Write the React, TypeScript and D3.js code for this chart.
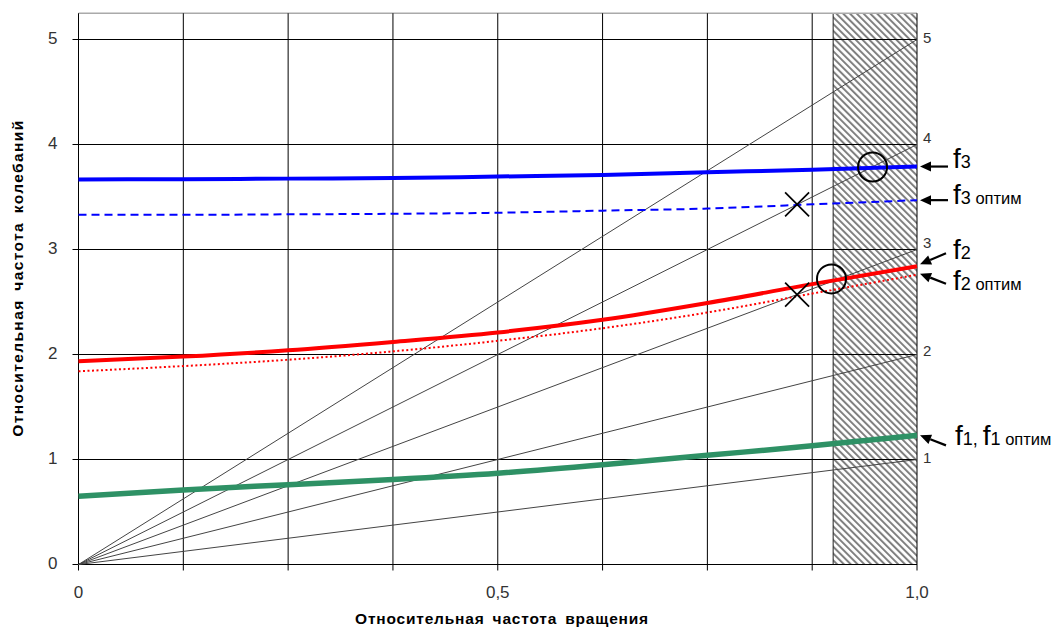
import React from "react";
import * as d3 from "d3";

// ---- data ----
const xs = [0, 0.125, 0.25, 0.375, 0.5, 0.625, 0.75, 0.875, 1.0];
const f3 = [3.667, 3.67, 3.675, 3.68, 3.695, 3.71, 3.735, 3.76, 3.79];
const f3opt = [3.33, 3.33, 3.335, 3.34, 3.35, 3.37, 3.39, 3.43, 3.47];
const f2 = [1.936, 1.98, 2.04, 2.12, 2.21, 2.33, 2.49, 2.67, 2.84];
const f2opt = [1.84, 1.89, 1.95, 2.03, 2.13, 2.25, 2.4, 2.58, 2.76];
const f1 = [0.65, 0.71, 0.76, 0.81, 0.87, 0.95, 1.04, 1.13, 1.23];
const rays = [1, 2, 3, 4, 5];
const yTicks = [0, 1, 2, 3, 4, 5];
const xGrid = [0, 0.125, 0.25, 0.375, 0.5, 0.625, 0.75, 0.875, 1.0];
const xTickLabels = [
  { v: 0, t: "0" },
  { v: 0.5, t: "0,5" },
  { v: 1.0, t: "1,0" },
];
const hatch = [0.9, 1.0];
const circles = [
  { x: 0.947, y: 3.785 },
  { x: 0.898, y: 2.72 },
];
const crosses = [
  { x: 0.857, y: 3.43 },
  { x: 0.857, y: 2.57 },
];
const xTitle = "Относительная частота вращения";
const yTitle = "Относительная частота колебаний";

const FONT = "'Liberation Sans', Arial, sans-serif";

export default function App() {
  const W = 1052, H = 629;
  const x = d3.scaleLinear().domain([0, 1]).range([78.5, 917]);
  const y = d3.scaleLinear().domain([0, 5.25]).range([564.5, 13.25]);

  const line = (vals: number[]) =>
    d3
      .line<number>()
      .x((_, i) => x(xs[i]))
      .y((d) => y(d))
      .curve(d3.curveMonotoneX)(vals) as string;

  const arrow = (tx: number, ty: number, sx: number, sy: number, key: string) => {
    const ang = Math.atan2(sy - ty, sx - tx);
    const L = 11, Wd = 5;
    const bx = tx + L * Math.cos(ang), by = ty + L * Math.sin(ang);
    const px = -Math.sin(ang), py = Math.cos(ang);
    return (
      <g key={key}>
        <line x1={bx} y1={by} x2={sx} y2={sy} stroke="#000" strokeWidth={2.2} />
        <polygon
          points={`${tx},${ty} ${bx + px * Wd},${by + py * Wd} ${bx - px * Wd},${by - py * Wd}`}
          fill="#000"
        />
      </g>
    );
  };

  const endX = x(1);
  const tipX = endX + 3;
  const tailX = endX + 31;
  const labX = endX + 36;

  return (
    <svg width={W} height={H} style={{ position: "absolute", left: 0, top: 0, fontFamily: FONT }}>
      <defs>
        <pattern id="hatch" patternUnits="userSpaceOnUse" width={4.8} height={4.8} patternTransform="rotate(-45)">
          <line x1={1} y1={0} x2={1} y2={4.8} stroke="#808080" strokeWidth={2} />
        </pattern>
      </defs>
      <rect width={W} height={H} fill="#fff" />

      {/* hatched region */}
      <rect
        x={x(hatch[0])}
        y={y(5.25)}
        width={x(hatch[1]) - x(hatch[0])}
        height={y(0) - y(5.25)}
        fill="url(#hatch)"
      />
      <line x1={x(hatch[0])} x2={x(hatch[0])} y1={y(5.25)} y2={y(0)} stroke="#222" strokeWidth={1} />

      {/* top border */}
      <line x1={x(0)} x2={x(1)} y1={y(5.25)} y2={y(5.25)} stroke="#aaa" strokeWidth={1.5} />

      {/* grid */}
      {xGrid.map((v) => (
        <line key={"vx" + v} x1={x(v)} x2={x(v)} y1={y(5.25)} y2={y(0) + 6} stroke="#000" strokeWidth={1} />
      ))}
      {yTicks.map((v) => (
        <line key={"hy" + v} x1={x(0) - 6} x2={x(1)} y1={y(v)} y2={y(v)} stroke="#000" strokeWidth={1} />
      ))}

      {/* rays */}
      {rays.map((k) => (
        <line key={"r" + k} x1={x(0)} y1={y(0)} x2={x(1)} y2={y(k)} stroke="#444" strokeWidth={1} />
      ))}
      {rays.map((k) => (
        <text
          key={"rl" + k}
          x={endX + 6}
          y={y(k) + (k === 3 || k === 4 ? -5 : k === 2 ? -2 : 0)}
          fontSize={15}
          fill="#333"
          dominantBaseline="middle"
        >
          {k}
        </text>
      ))}

      {/* curves */}
      <path d={line(f1)} fill="none" stroke="#2e9165" strokeWidth={5.5} />
      <path d={line(f2opt)} fill="none" stroke="#ff0000" strokeWidth={2} strokeDasharray="2,2.5" />
      <path d={line(f2)} fill="none" stroke="#ff0000" strokeWidth={4} />
      <path d={line(f3opt)} fill="none" stroke="#0000ff" strokeWidth={2} strokeDasharray="8,5" />
      <path d={line(f3)} fill="none" stroke="#0000ff" strokeWidth={4} />

      {/* circles & crosses */}
      {circles.map((c, i) => (
        <circle key={"c" + i} cx={x(c.x)} cy={y(c.y)} r={14.5} fill="none" stroke="#000" strokeWidth={2} />
      ))}
      {crosses.map((c, i) => {
        const cx = x(c.x), cy = y(c.y), s = 12;
        return (
          <g key={"x" + i} stroke="#000" strokeWidth={1.6}>
            <line x1={cx - s} y1={cy - s} x2={cx + s} y2={cy + s} />
            <line x1={cx - s} y1={cy + s} x2={cx + s} y2={cy - s} />
          </g>
        );
      })}

      {/* y tick labels */}
      {yTicks.map((v) => (
        <text key={"yt" + v} x={x(0) - 21} y={y(v)} fontSize={17} fill="#333" textAnchor="end" dominantBaseline="middle">
          {v}
        </text>
      ))}
      {/* x tick labels */}
      {xTickLabels.map((d) => (
        <text key={"xt" + d.v} x={x(d.v)} y={598} fontSize={17} fill="#333" textAnchor="middle">
          {d.t}
        </text>
      ))}

      {/* axis titles */}
      <text x={502} y={624} fontSize={15.5} fontWeight="bold" textAnchor="middle" fill="#000" letterSpacing={0.8} wordSpacing={3}>
        {xTitle}
      </text>
      <text
        transform={`translate(23, 278) rotate(-90)`}
        fontSize={15.5}
        fontWeight="bold"
        textAnchor="middle"
        fill="#000"
        letterSpacing={1.4}
        wordSpacing={3}
      >
        {yTitle}
      </text>

      {/* arrows & labels */}
      {arrow(tipX, y(f3[8]), tailX, y(f3[8]), "a3")}
      {arrow(tipX, y(f3opt[8]), tailX, y(f3opt[8]), "a3o")}
      {arrow(tipX, y(f2[8]) - 2, tailX - 2, y(f2[8]) - 13, "a2")}
      {arrow(tipX, y(f2opt[8]) - 1, tailX - 2, y(f2opt[8]) + 9, "a2o")}
      {arrow(tipX, y(f1[8]), tailX - 2, y(f1[8]) + 10, "a1")}

      <text x={labX} y={y(f3[8]) + 1} fill="#000">
        <tspan fontSize={28}>f</tspan>
        <tspan fontSize={18}>3</tspan>
      </text>
      <text x={labX} y={y(f3opt[8]) + 4} fill="#000">
        <tspan fontSize={28}>f</tspan>
        <tspan fontSize={18}>3</tspan>
        <tspan fontSize={16.5}> оптим</tspan>
      </text>
      <text x={labX} y={y(f2[8]) - 7} fill="#000">
        <tspan fontSize={28}>f</tspan>
        <tspan fontSize={18}>2</tspan>
      </text>
      <text x={labX} y={y(f2opt[8]) + 15} fill="#000">
        <tspan fontSize={28}>f</tspan>
        <tspan fontSize={18}>2</tspan>
        <tspan fontSize={16.5}> оптим</tspan>
      </text>
      <text x={labX + 2} y={y(f1[8]) + 10} fill="#000">
        <tspan fontSize={28}>f</tspan>
        <tspan fontSize={18}>1</tspan>
        <tspan fontSize={18}>, </tspan>
        <tspan fontSize={28}>f</tspan>
        <tspan fontSize={18}>1</tspan>
        <tspan fontSize={16.5}> оптим</tspan>
      </text>
    </svg>
  );
}
